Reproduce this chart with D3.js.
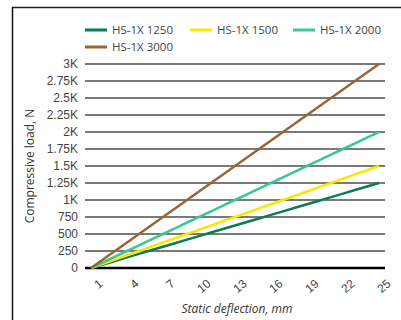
<!DOCTYPE html>
<html><head><meta charset="utf-8">
<script src="https://cdn.jsdelivr.net/npm/d3@7"></script>
<style>
html,body{margin:0;padding:0;background:#fff;}
svg{display:block;font-family:"Open Sans","Noto Sans",sans-serif;}
</style></head>
<body><svg id="c" width="401" height="320"></svg>
<script>
const deflection = [1,2,3,4,5,6,7,8,9,10,11,12,13,14,15,16,17,18,19,20,21,22,23,24,25];
const seriesNames = ["HS-1X 1250","HS-1X 1500","HS-1X 2000","HS-1X 3000"];
const hs1250 = [0,52,104,156,208,260,313,365,417,469,521,573,625,677,729,781,833,885,938,990,1042,1094,1146,1198,1250];
const hs1500 = [0,63,125,188,250,313,375,438,500,563,625,688,750,813,875,938,1000,1063,1125,1188,1250,1313,1375,1438,1500];
const hs2000 = [0,83,167,250,333,417,500,583,667,750,833,917,1000,1083,1167,1250,1333,1417,1500,1583,1667,1750,1833,1917,2000];
const hs3000 = [0,125,250,375,500,625,750,875,1000,1125,1250,1375,1500,1625,1750,1875,2000,2125,2250,2375,2500,2625,2750,2875,3000];
const colors = ["#0c7a55","#f7ea00","#3cc49c","#9b6535"];
const yTicks = [0,250,500,750,1000,1250,1500,1750,2000,2250,2500,2750,3000];
const yTickLabels = ["0","250","500","750","1K","1.25K","1.5K","1.75K","2K","2.25K","2.5K","2.75K","3K"];
const xTicks = [1,4,7,10,13,16,19,22,25];
const allSeries = [hs1250, hs1500, hs2000, hs3000];

const svg = d3.select("#c");
// frame
svg.append("line").attr("x1",12).attr("x2",401).attr("y1",7.5).attr("y2",7.5).attr("stroke","#222").attr("stroke-width",1.5);
svg.append("line").attr("x1",12.5).attr("x2",12.5).attr("y1",7).attr("y2",320).attr("stroke","#111").attr("stroke-width",1.5);

const L=85, R=385, T=64, B=268;
const x = d3.scalePoint().domain(deflection).range([L,R]).padding(0.5);
const y = d3.scaleLinear().domain([0,3000]).range([B,T]);

// grid
const yAxis = d3.axisLeft(y).tickValues(yTicks).tickSize(0).tickPadding(7)
  .tickFormat((d,i)=>yTickLabels[i]);
const gy = svg.append("g").attr("transform",`translate(${L},0)`).call(yAxis);
gy.select(".domain").remove();
gy.selectAll("text").attr("fill","#444").style("font-size","12px");
svg.append("g").selectAll("line").data(yTicks).join("line")
  .attr("x1",L).attr("x2",R).attr("y1",d=>y(d)).attr("y2",d=>y(d))
  .attr("stroke",d=>d===0?"#000":"#7a7a7a").attr("stroke-width",d=>d===0?2.5:2);

// x axis labels
const xAxis = d3.axisBottom(x).tickValues(xTicks).tickSize(0).tickPadding(10);
const gx = svg.append("g").attr("transform",`translate(0,${B})`).call(xAxis);
gx.select(".domain").remove();
gx.selectAll("text").attr("fill","#444").style("font-size","12px")
  .attr("text-anchor","end").attr("dy","0.35em")
  .attr("transform","translate(3,6) rotate(-40)");

// lines
const line = d3.line().x((d,i)=>x(deflection[i])).y(d=>y(d));
svg.append("g").selectAll("path").data(allSeries).join("path")
  .attr("d",line).attr("fill","none")
  .attr("stroke",(d,i)=>colors[i]).attr("stroke-width",2.5);

// legend
const legPos = [[85,30],[190,30],[293,30],[85,47]];
const lg = svg.append("g").selectAll("g").data(seriesNames).join("g")
  .attr("transform",(d,i)=>`translate(${legPos[i][0]},${legPos[i][1]})`);
lg.append("line").attr("x1",0).attr("x2",22).attr("stroke",(d,i)=>colors[i]).attr("stroke-width",3);
lg.append("text").attr("x",27).attr("dy","0.35em").attr("fill","#444").style("font-size","11.5px").text(d=>d);

// titles
svg.append("text").attr("transform",`translate(34,${(T+B)/2}) rotate(-90)`)
  .attr("text-anchor","middle").attr("fill","#333").style("font-size","12px").text("Compressive load, N");
svg.append("text").attr("x",237).attr("y",313).attr("text-anchor","middle")
  .attr("fill","#333").style("font-size","12px").style("font-style","italic").text("Static deflection, mm");
</script></body></html>
